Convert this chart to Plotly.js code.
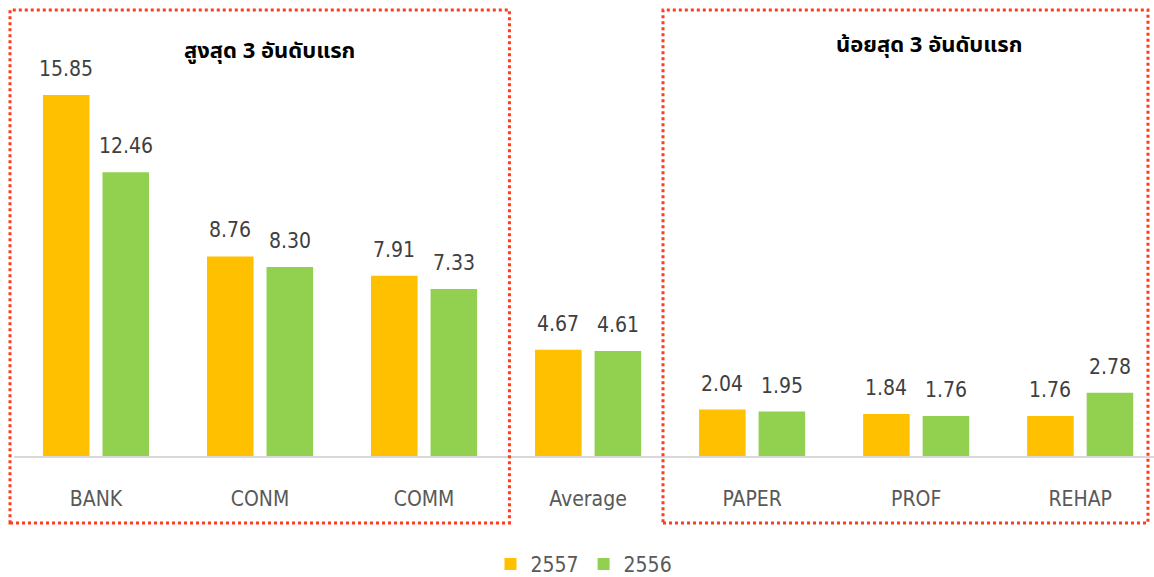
<!DOCTYPE html>
<html>
<head>
<meta charset="utf-8">
<script src="https://cdn.plot.ly/plotly-3.0.1.min.js"></script>
<style>html,body{margin:0;padding:0;background:#fff}#chart{width:1154px;height:577px}</style>
</head>
<body>
<div id="chart"></div>
<script>
var categories = ["BANK", "CONM", "COMM", "Average", "PAPER", "PROF", "REHAP"];
var seriesNames = ["2557", "2556"];
var values2557 = [15.85, 8.76, 7.91, 4.67, 2.04, 1.84, 1.76];
var values2556 = [12.46, 8.30, 7.33, 4.61, 1.95, 1.76, 2.78];
var groupTitles = ["สูงสุด 3 อันดับแรก", "น้อยสุด 3 อันดับแรก"];

var colors = ["#FFC000", "#92D050"];
var labelFont = {family: "Liberation Sans Narrow, DejaVu Sans Condensed, Arial Narrow, sans-serif", size: 21, color: "#404040"};
var thaiFont = "Noto Sans Thai, Tahoma, Noto Sans, DejaVu Sans, sans-serif";

var traces = [
  {type: "bar", name: seriesNames[0], x: categories, y: values2557, marker: {color: colors[0]}, hoverinfo: "none"},
  {type: "bar", name: seriesNames[1], x: categories, y: values2556, marker: {color: colors[1]}, hoverinfo: "none"}
];

var annotations = [];
[values2557, values2556].forEach(function (vals, s) {
  vals.forEach(function (v, i) {
    annotations.push({
      x: categories[i], y: v, xref: "x", yref: "y",
      text: v.toFixed(2), showarrow: false,
      xshift: s === 0 ? -30 : 30, yshift: 12, yanchor: "bottom",
      font: labelFont
    });
  });
});
annotations.push({x: 1, y: 1, xref: "x", yref: "paper", yshift: -41, xshift: 9, text: "<b>" + groupTitles[0] + "</b>", showarrow: false, yanchor: "middle", font: {family: thaiFont, size: 22, color: "#000"}});
annotations.push({x: 5, y: 1, xref: "x", yref: "paper", yshift: -35, xshift: 13, text: "<b>" + groupTitles[1] + "</b>", showarrow: false, yanchor: "middle", font: {family: thaiFont, size: 22, color: "#000"}});

var boxLine = {color: "#FF3D1A", width: 3, dash: "dot"};
var shapes = [
  {type: "rect", xref: "paper", yref: "paper", x0: -0.0035, x1: 0.4346, y0: -0.150, y1: 1.0, line: boxLine},
  {type: "rect", xref: "paper", yref: "paper", x0: 0.5693, x1: 0.9947, y0: -0.150, y1: 1.0, line: boxLine}
];

var layout = {
  width: 1154, height: 577,
  margin: {l: 14, r: 0, t: 10, b: 121, autoexpand: false},
  paper_bgcolor: "#fff", plot_bgcolor: "#fff",
  barmode: "group", bargap: 0.274, bargroupgap: 0.218,
  showlegend: true,
  legend: {orientation: "h", x: 0.5, xanchor: "center", yref: "container", y: 0.022, yanchor: "middle",
    font: {family: labelFont.family, size: 21, color: "#595959"}, itemwidth: 30, traceorder: "normal"},
  xaxis: {
    range: [-0.5, 6.45], type: "category",
    showline: true, linecolor: "#D9D9D9", linewidth: 2,
    ticks: "outside", ticklen: 23, tickcolor: "rgba(0,0,0,0)",
    tickfont: {family: labelFont.family, size: 21, color: "#595959"},
    showgrid: false, zeroline: false, fixedrange: true, automargin: false
  },
  yaxis: {range: [0, 19.58], visible: false, showgrid: false, zeroline: false, fixedrange: true},
  annotations: annotations,
  shapes: shapes
};

Plotly.newPlot("chart", traces, layout, {staticPlot: true, displayModeBar: false});
</script>
</body>
</html>
